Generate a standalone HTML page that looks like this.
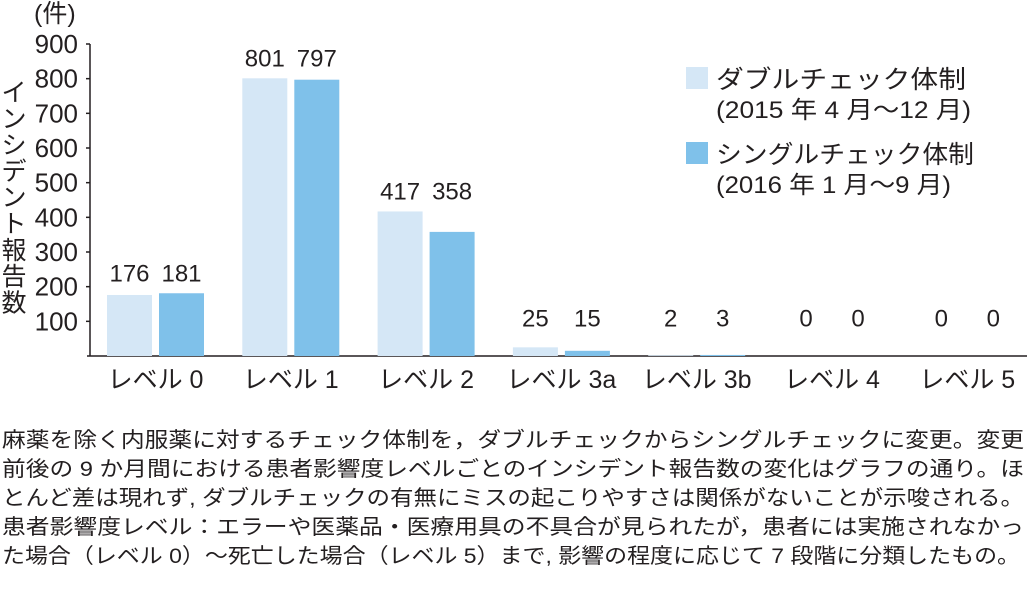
<!DOCTYPE html>
<html><head><meta charset="utf-8"><style>
body{margin:0;background:#fff}
svg{display:block;font-family:"Liberation Sans","Noto Sans CJK JP",sans-serif;fill:#231f20}
</style></head><body>
<svg width="1027" height="594" viewBox="0 0 1027 594">
<g id="chart"></g>
<g font-size="21">
<text x="2" y="447" textLength="1022" lengthAdjust="spacingAndGlyphs">麻薬を除く内服薬に対するチェック体制を，ダブルチェックからシングルチェックに変更。変更</text>
<text x="2" y="476" textLength="1022" lengthAdjust="spacingAndGlyphs">前後の 9 か月間における患者影響度レベルごとのインシデント報告数の変化はグラフの通り。ほ</text>
<text x="2" y="505" textLength="1022" lengthAdjust="spacingAndGlyphs">とんど差は現れず, ダブルチェックの有無にミスの起こりやすさは関係がないことが示唆される。</text>
<text x="2" y="534" textLength="1022" lengthAdjust="spacingAndGlyphs">患者影響度レベル：エラーや医薬品・医療用具の不具合が見られたが，患者には実施されなかっ</text>
<text x="2" y="563" textLength="1018" lengthAdjust="spacingAndGlyphs">た場合（レベル 0）〜死亡した場合（レベル 5）まで, 影響の程度に応じて 7 段階に分類したもの。</text>
</g>
</svg>
<script>
const categories=["レベル 0","レベル 1","レベル 2","レベル 3a","レベル 3b","レベル 4","レベル 5"];
const doubleValues=[176,801,417,25,2,0,0];
const singleValues=[181,797,358,15,3,0,0];
const yTicks=[100,200,300,400,500,600,700,800,900];
const NS="http://www.w3.org/2000/svg";
const g=document.getElementById('chart');
const x0=90,yBase=356,yTop=44,vmax=900;
const y=v=>yBase-(yBase-yTop)*v/vmax;
const gx=i=>155.5+i*135.3;
function el(t,a,txt){const e=document.createElementNS(NS,t);for(const k in a)e.setAttribute(k,a[k]);if(txt!==undefined)e.textContent=txt;g.appendChild(e);return e;}
let e;
e=el('line',{x1:x0,y1:yTop,x2:x0,y2:yBase,stroke:'#231f20','stroke-width':1.5});


e=el('line',{x1:x0-3,y1:yBase,x2:1027,y2:yBase,stroke:'#231f20','stroke-width':1.5});


yTicks.forEach(v=>{
 e=el('line',{x1:x0-4,y1:y(v),x2:x0,y2:y(v),stroke:'#231f20','stroke-width':1.5});
 
 
 e=el('text',{x:78,y:y(v)+9,'font-size':26,'text-anchor':'end'},String(v));
 
 
});
e=el('text',{x:34,y:22,'font-size':25},'(件)');


const yt="インシデント報告数".split("");
yt.forEach((c,i)=>{
 e=el('text',{x:14,y:101+i*26.3,'font-size':25,'text-anchor':'middle'},c);
 
 
});
categories.forEach((c,i)=>{
 const cx=gx(i);
 const hd=yBase-y(doubleValues[i]), hs=yBase-y(singleValues[i]);
 e=el('rect',{x:cx-48.5,y:y(doubleValues[i]),width:45,height:hd,fill:'#d5e7f6'});
 
 
 e=el('rect',{x:cx+3.5,y:y(singleValues[i]),width:45,height:hs,fill:'#7fc1ea'});
 
 
 const ly=Math.min(y(Math.max(doubleValues[i],singleValues[i])),y(50))-12;
 e=el('text',{x:cx-26,y:ly,'font-size':24,'text-anchor':'middle'},String(doubleValues[i]));
 
 
 e=el('text',{x:cx+26,y:ly,'font-size':24,'text-anchor':'middle'},String(singleValues[i]));
 
 
 e=el('text',{x:cx,y:388,'font-size':25,'text-anchor':'middle'},c);
 
 
});
[["#d5e7f6","ダブルチェック体制","(2015 年 4 月〜12 月)",67,250,255],["#7fc1ea","シングルチェック体制","(2016 年 1 月〜9 月)",142,258,235]].forEach((L,i)=>{
 e=el('rect',{x:686,y:L[3],width:22,height:22,fill:L[0]});
 
 
 e=el('text',{x:716,y:L[3]+21,'font-size':25,textLength:L[4],lengthAdjust:'spacingAndGlyphs'},L[1]);
 
 
 e=el('text',{x:716,y:L[3]+51,'font-size':24,textLength:L[5],lengthAdjust:'spacingAndGlyphs'},L[2]);
 
 
});
</script>
</body></html>
